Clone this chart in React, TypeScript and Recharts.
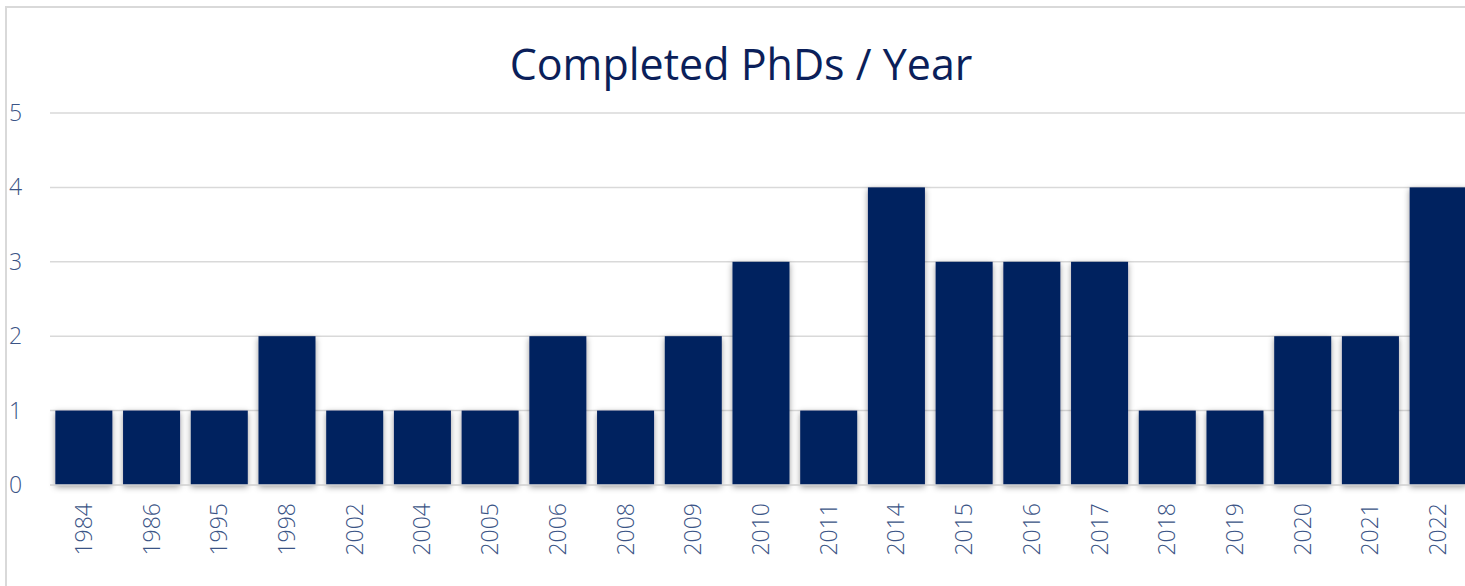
import { BarChart, Bar, XAxis, YAxis, CartesianGrid } from 'recharts'

const years = ['1984', '1986', '1995', '1998', '2002', '2004', '2005', '2006', '2008', '2009', '2010', '2011', '2014', '2015', '2016', '2017', '2018', '2019', '2020', '2021', '2022']
const phds = [1, 1, 1, 2, 1, 1, 1, 2, 1, 2, 3, 1, 4, 3, 3, 3, 1, 1, 2, 2, 4]
const yTicks = [0, 1, 2, 3, 4, 5]

const NAVY = '#02205f'
const TICK = '#3b5486'
const FONT = '"Open Sans", "Noto Sans", sans-serif'

const data = years.map((year, i) => ({ year, value: phds[i] }))

function YTick({ y, payload }: any) {
  return (
    <text x={9} y={y} dy={8} textAnchor="start" fill={TICK} fontSize={23} fontFamily={FONT} fontWeight={300}>
      {payload.value}
    </text>
  )
}

function XTick({ x, y, payload }: any) {
  return (
    <text
      x={0}
      y={0}
      transform={`translate(${x + 8},${y + 10}) rotate(-90)`}
      textAnchor="end"
      fill={TICK}
      fontSize={23}
      fontFamily={FONT}
      fontWeight={300}
    >
      {payload.value}
    </text>
  )
}

function ShadowBar({ x, y, width, height }: any) {
  return <rect x={x} y={y} width={width} height={height} fill={NAVY} filter="url(#barShadow)" />
}

export default function App() {
  return (
    <div style={{ position: 'absolute', left: 0, top: 0, width: 1465, height: 586, overflow: 'hidden', background: '#fff' }}>
      <div style={{ position: 'absolute', left: 5, top: 6, width: 1520, height: 640, border: '2px solid #d9d9d9' }} />
      <div
        style={{
          position: 'absolute',
          left: 0,
          top: 36,
          width: 1482,
          textAlign: 'center',
          color: '#0b1f5a',
          fontFamily: FONT,
          fontSize: 43,
          fontWeight: 400,
          lineHeight: '56px',
        }}
      >
        Completed PhDs / Year
      </div>
      <div style={{ position: 'absolute', left: 0, top: 0 }}>
        <BarChart width={1472} height={586} data={data} margin={{ top: 113, right: 0, bottom: 0, left: 0 }} barCategoryGap="7.9%">
          <defs>
            <filter id="barShadow" x="-20%" y="-10%" width="140%" height="125%">
              <feDropShadow dx="0" dy="2" stdDeviation="3" floodColor="#000" floodOpacity="0.4" />
            </filter>
          </defs>
          <CartesianGrid vertical={false} stroke="#d9d9d9" strokeWidth={1.5} />
          <XAxis
            dataKey="year"
            interval={0}
            height={101}
            tickLine={false}
            axisLine={{ stroke: '#d9d9d9', strokeWidth: 1.5 }}
            tick={<XTick />}
          />
          <YAxis width={50} domain={[0, 5]} ticks={yTicks} axisLine={false} tickLine={false} tick={<YTick />} />
          <Bar dataKey="value" isAnimationActive={false} shape={<ShadowBar />} />
        </BarChart>
      </div>
    </div>
  )
}
